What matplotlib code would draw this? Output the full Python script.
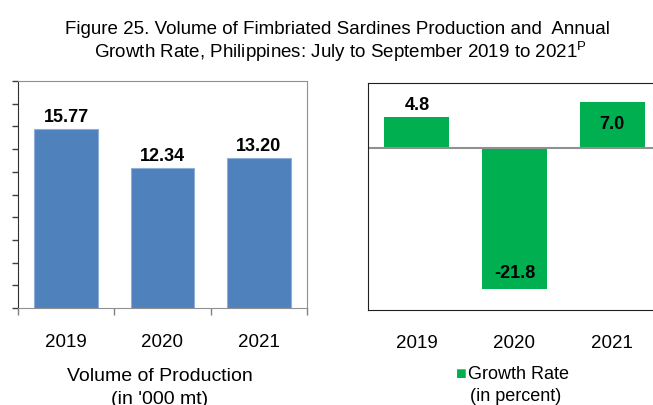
import matplotlib
matplotlib.use('Agg')
import matplotlib.pyplot as plt

years = ['2019', '2020', '2021']
volume = [15.77, 12.34, 13.20]
growth = [4.8, -21.8, 7.0]

plt.rcParams['font.family'] = ['Liberation Sans', 'DejaVu Sans']
plt.rcParams['mathtext.fontset'] = 'custom'
plt.rcParams['mathtext.rm'] = 'Liberation Sans'

W, H = 653, 406
fig = plt.figure(figsize=(W / 100, H / 100), dpi=100)


def fx(px):
    return px / W


def fy(py):
    return 1 - py / H


# title
fig.text(fx(337), fy(29), 'Figure 25. Volume of Fimbriated Sardines Production and  Annual',
         ha='center', va='center', fontsize=13.5)
fig.text(fx(340), fy(52), 'Growth Rate, Philippines: July to September 2019 to 2021$^{\\rm P}$',
         ha='center', va='center', fontsize=13.5)

x = list(range(len(years)))

# left panel: volume of production
ax1 = fig.add_axes([fx(18), fy(309), fx(289), 227 / H])
ax1.bar(x, volume, width=0.66, color='#4F81BD', edgecolor='#8EAFD8', linewidth=0.8)
ax1.set_xlim(-0.5, 2.5)
ax1.set_ylim(0, 20)
ax1.set_yticks(range(0, 21, 2))
ax1.set_yticklabels([])
ax1.tick_params(axis='y', direction='out', length=4, width=1, color='#404040')
ax1.set_xticks(x)
ax1.set_xticklabels(years, fontsize=13.5)
ax1.tick_params(axis='x', which='major', length=0, pad=18)
ax1.set_xticks([-0.5, 0.5, 1.5, 2.5], minor=True)
ax1.tick_params(axis='x', which='minor', direction='out', length=5, width=1, color='#808080')
ax1.spines['left'].set_color('#303030')
for side in ['top', 'right', 'bottom']:
    ax1.spines[side].set_color('#909090')
for xi, v in zip(x, volume):
    ax1.annotate(f'{v:.2f}', (xi, v), xytext=(0, 3), textcoords='offset points',
                 ha='center', va='bottom', fontsize=13, fontweight='bold')

# axis caption (second line is cut off at the bottom edge, as in the original)
fig.text(fx(160), fy(377), 'Volume of Production', ha='center', va='center', fontsize=14)
fig.text(fx(160), fy(400), "(in '000 mt)", ha='center', va='center', fontsize=14)

# right panel: growth rate
ax2 = fig.add_axes([fx(368), fy(311), fx(293), 227 / H])
ax2.bar(x, growth, width=0.665, color='#00B050')
ax2.axhline(0, color='#909090', linewidth=1.5)
ax2.set_xlim(-0.5, 2.5)
ax2.set_ylim(-25, 10)
ax2.set_yticks([])
ax2.set_xticks(x)
ax2.set_xticklabels(years, fontsize=13.5)
ax2.tick_params(axis='x', length=0, pad=17)
for side in ax2.spines:
    ax2.spines[side].set_color('#202020')

label_offsets = [(3, 'bottom'), (12, 'center'), (-15, 'center')]
for xi, v, (dy, va) in zip(x, growth, label_offsets):
    ax2.annotate(f'{v:.1f}', (xi, v), xytext=(0, dy), textcoords='offset points',
                 ha='center', va=va, fontsize=13, fontweight='bold')

# legend drawn by hand, centred under the panel
fig.text(fx(461), fy(375), '\u25A0', ha='center', va='center', fontsize=13, color='#00B050')
fig.text(fx(468), fy(375), 'Growth Rate', ha='left', va='center', fontsize=13)
fig.text(fx(516), fy(397), '(in percent)', ha='center', va='center', fontsize=13)

fig.savefig('out.png', dpi=100)
